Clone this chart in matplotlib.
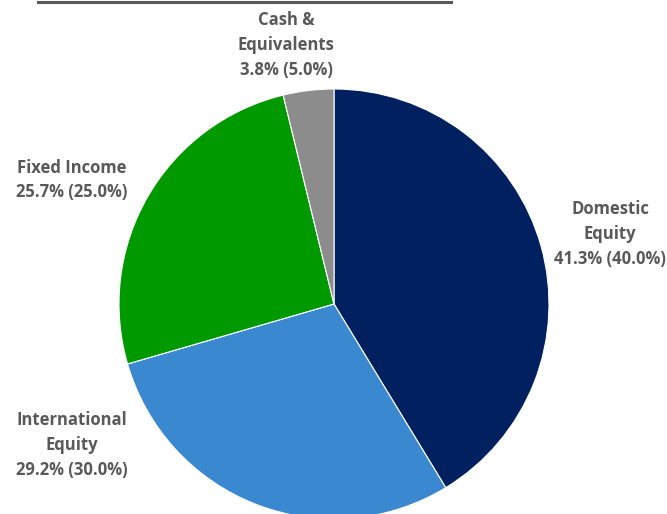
import matplotlib
matplotlib.use("Agg")
import matplotlib.pyplot as plt
from matplotlib.lines import Line2D

# slice data (actual %, target %)
names = ["Domestic\nEquity", "International\nEquity", "Fixed Income", "Cash &\nEquivalents"]
actual = [41.3, 29.2, 25.7, 3.8]
target = [40.0, 30.0, 25.0, 5.0]
colors = ["#002060", "#3a88d0", "#009900", "#8c8c8c"]

# label positions in pixels (x, y from top)
label_pos = [(610, 234), (72, 445), (72, 180), (286, 45)]

fig = plt.figure(figsize=(6.67, 5.14), dpi=100)
ax = fig.add_axes([0, 0, 1, 1])

ax.pie(actual, colors=colors, startangle=90, counterclock=False,
       center=(334, 514 - 304), radius=215,
       wedgeprops=dict(edgecolor="white", linewidth=0.8))

ax.set_xlim(0, 667)
ax.set_ylim(0, 514)
ax.set_aspect("equal")
ax.axis("off")

for n, a, t, (x, y) in zip(names, actual, target, label_pos):
    ax.text(x, 514 - y, f"{n}\n{a:.1f}% ({t:.1f}%)", ha="center", va="center",
            fontsize=12, fontweight="bold", color="#595959",
            family="Open Sans", linespacing=1.48)

# underline of the cut-off title
fig.add_artist(Line2D([38 / 667, 451 / 667], [1 - 2 / 514, 1 - 2 / 514],
                      color="#595959", linewidth=2.2))

fig.savefig("out.png", dpi=100)
